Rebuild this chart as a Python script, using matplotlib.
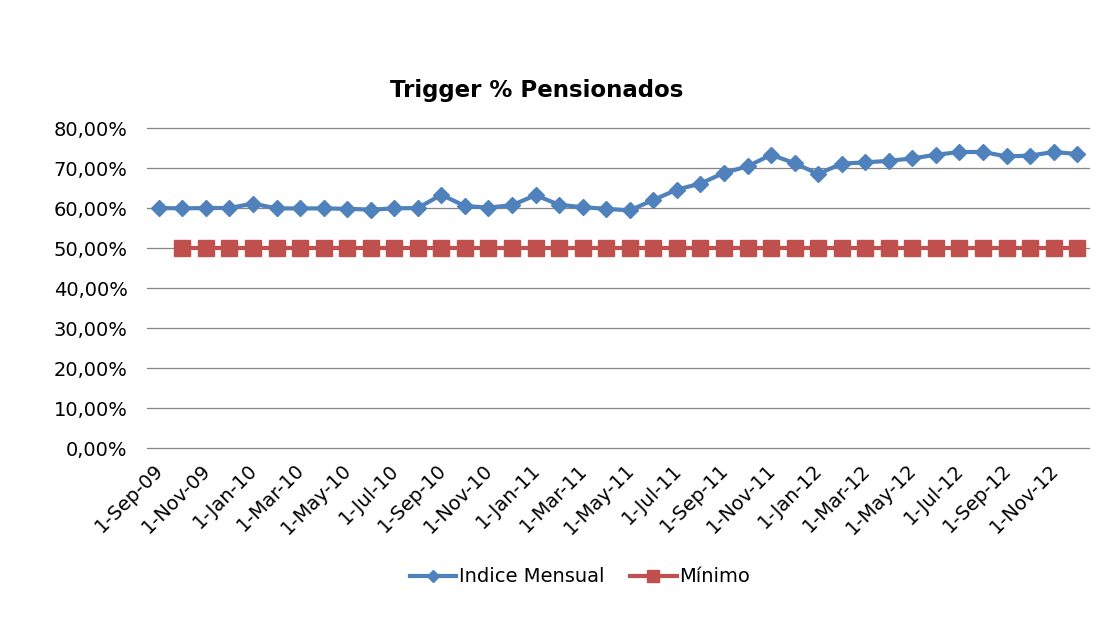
import matplotlib
matplotlib.use("Agg")
import matplotlib.pyplot as plt
import matplotlib.transforms as mtransforms
from matplotlib.ticker import FuncFormatter

months = ["Sep", "Oct", "Nov", "Dec", "Jan", "Feb", "Mar", "Apr", "May", "Jun", "Jul", "Aug"]
start_year = 9
n_points = 40
categories = []
for i in range(n_points):
    m = months[i % 12]
    y = start_year + (i + 8) // 12
    categories.append(f"1-{m}-{y:02d}")

indice_mensual = [60.0, 59.9, 60.0, 60.0, 61.1, 59.9, 59.9, 59.9, 59.8, 59.6,
                  59.9, 60.0, 63.3, 60.5, 60.1, 60.7, 63.2, 60.8, 60.2, 59.8,
                  59.4, 62.0, 64.6, 66.1, 68.8, 70.4, 73.3, 71.2, 68.5, 71.1,
                  71.4, 71.8, 72.4, 73.3, 74.0, 74.0, 72.9, 73.1, 74.0, 73.5]
minimo = [None] + [50.0] * 39

title = "Trigger % Pensionados"
series_names = ["Indice Mensual", "Mínimo"]
blue = "#4F81BD"
red = "#C0504D"

fig = plt.figure(figsize=(11.15, 6.42), dpi=100)
ax = fig.add_axes([147 / 1115, 1 - 448 / 642, (1089 - 147) / 1115, (448 - 128) / 642])

x = list(range(n_points))
xm = [i for i, v in enumerate(minimo) if v is not None]
ym = [v / 100 for v in minimo if v is not None]

ax.plot(x, [v / 100 for v in indice_mensual], color=blue, lw=3, marker="D",
        ms=8, mec=blue, mfc=blue, label=series_names[0], zorder=4)
ax.plot(xm, ym, color=red, lw=3, marker="s", ms=11, mec=red, mfc=red,
        label=series_names[1], zorder=3)

ax.set_xlim(-0.5, n_points - 0.5)
ax.set_ylim(0, 0.8)
ax.set_yticks([i / 10 for i in range(9)])
ax.yaxis.set_major_formatter(FuncFormatter(lambda v, p: f"{v*100:.2f}%".replace(".", ",")))
ax.grid(axis="y", color="#868686", lw=0.9)
for gl in ax.get_ygridlines():
    gl.set_clip_on(False)
ax.set_axisbelow(True)
for s in ax.spines.values():
    s.set_visible(False)
ax.tick_params(axis="both", length=0, labelsize=14, colors="black")
ax.tick_params(axis="y", pad=14)

tick_idx = list(range(0, n_points, 2))
ax.set_xticks(tick_idx)
ax.set_xticklabels([categories[i] for i in tick_idx], rotation=45, ha="right",
                   rotation_mode="anchor", fontsize=14)
ax.tick_params(axis="x", pad=9)
shift = mtransforms.ScaledTranslation(-5 / 100, 0, fig.dpi_scale_trans)
for lbl in ax.get_xticklabels():
    lbl.set_transform(lbl.get_transform() + shift)

fig.text(537 / 1115, 1 - 90 / 642, title, ha="center", va="center",
         fontsize=16.5, fontweight="bold")

fig.legend(loc="center", bbox_to_anchor=(580 / 1115, 1 - 577 / 642), ncol=2,
           frameon=False, fontsize=14, handlelength=2.4, columnspacing=1.3,
           handletextpad=0.15, markerscale=0.8)

fig.savefig("out.png", dpi=100)
